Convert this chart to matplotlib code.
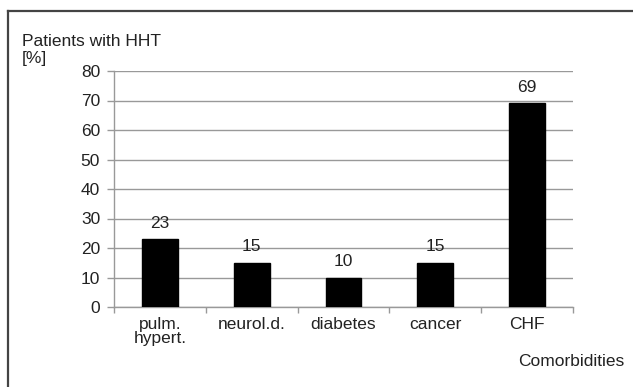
"""
Comorbidities in patients with HHT - bar chart
"""

import matplotlib
matplotlib.use('Agg')
import matplotlib.pyplot as plt
from matplotlib.lines import Line2D

# data
categories = ['pulm.\nhypert.', 'neurol.d.', 'diabetes', 'cancer', 'CHF']
percent = [23, 15, 10, 15, 69]

plt.rcParams['font.family'] = ['Liberation Sans', 'DejaVu Sans']
plt.rcParams['font.size'] = 12.5
text_col = '#222222'
grid_col = '#999999'

fig = plt.figure(figsize=(6.33, 3.87), dpi=100)
ax = fig.add_axes([114 / 633, 1 - 307 / 387, (573 - 114) / 633, (307 - 71) / 387])

x = list(range(len(categories)))
bars = ax.bar(x, percent, width=0.39, color='black', edgecolor='black', zorder=3)

# value labels above the bars
for xi, v in zip(x, percent):
    ax.annotate(str(v), (xi, v), xytext=(0, 6), textcoords='offset points',
                ha='center', va='bottom', color=text_col)

ax.set_xlim(-0.5, len(categories) - 0.5)
ax.set_ylim(0, 80)
ax.set_yticks(range(0, 81, 10))

# ticks on the category borders, labels in the middle
ax.set_xticks([i - 0.5 for i in range(len(categories) + 1)])
ax.set_xticklabels([])
ax.set_xticks(x, minor=True)
ax.set_xticklabels(categories, minor=True, color=text_col, linespacing=0.95)
ax.tick_params(axis='x', which='minor', length=0, pad=7)
ax.tick_params(axis='x', which='major', length=4, color=grid_col, width=1)
ax.tick_params(axis='y', length=5, color=grid_col, width=1, labelcolor=text_col, pad=5)

ax.yaxis.grid(True, color=grid_col, linewidth=1)
ax.set_axisbelow(True)
for s in ['top', 'right']:
    ax.spines[s].set_visible(False)
for s in ['left', 'bottom']:
    ax.spines[s].set_color(grid_col)
    ax.spines[s].set_linewidth(1)

fig.text(22 / 633, 1 - 34 / 387, 'Patients with HHT\n[%]', ha='left', va='top',
         color=text_col, linespacing=1.2)
fig.text(624 / 633, 1 - 362 / 387, 'Comorbidities', ha='right', va='center', color=text_col)

# frame around the picture (left and top only)
fig.add_artist(Line2D([8 / 633, 8 / 633], [0, 1 - 11 / 387], color='#444444', linewidth=1.6))
fig.add_artist(Line2D([8 / 633, 1], [1 - 11 / 387, 1 - 11 / 387], color='#444444', linewidth=1.6))

fig.savefig('out.png', dpi=100)
